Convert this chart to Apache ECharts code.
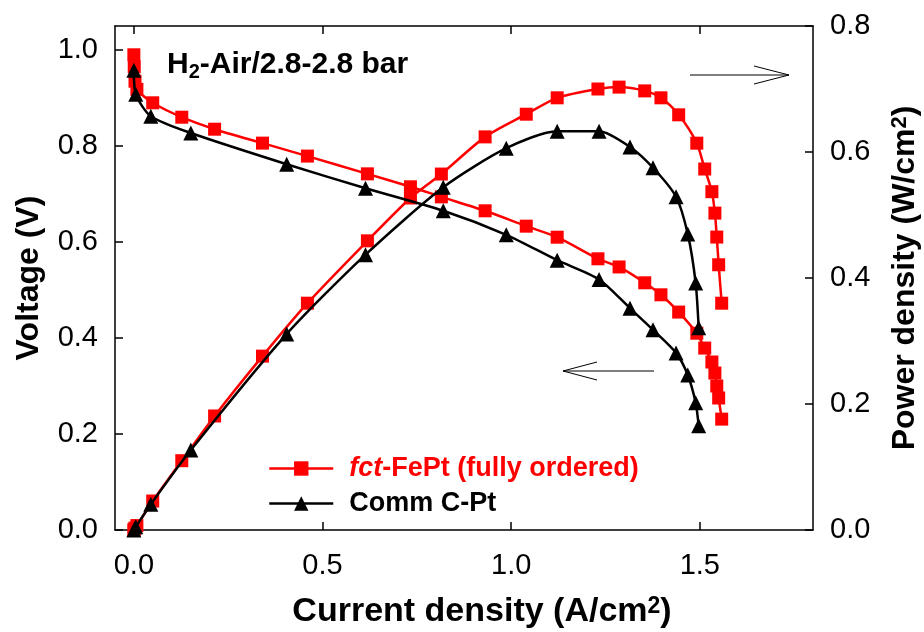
<!DOCTYPE html>
<html><head><meta charset="utf-8">
<script src="https://cdn.jsdelivr.net/npm/echarts@6/dist/echarts.min.js"></script>
<style>html,body{margin:0;padding:0;background:#fff}#c{width:924px;height:632px}</style>
</head><body><div id="c"></div>
<script>
// ---- data ----
const nameFePt = 'fct-FePt (fully ordered)';
const nameCPt = 'Comm C-Pt';

const currentFePt = [0.000, 0.001, 0.003, 0.008, 0.050, 0.127, 0.214, 0.341, 0.460, 0.619, 0.733, 0.815, 0.931, 1.040, 1.122, 1.230, 1.286, 1.354, 1.397, 1.444, 1.492, 1.513, 1.532, 1.540, 1.545, 1.550, 1.558];
const voltageFePt = [0.990, 0.965, 0.935, 0.918, 0.890, 0.860, 0.835, 0.806, 0.779, 0.742, 0.715, 0.694, 0.665, 0.633, 0.610, 0.565, 0.548, 0.515, 0.490, 0.454, 0.410, 0.379, 0.350, 0.327, 0.300, 0.275, 0.231];
const powerFePt   = [0.000, 0.001, 0.003, 0.007, 0.046, 0.110, 0.181, 0.276, 0.360, 0.459, 0.527, 0.565, 0.624, 0.660, 0.686, 0.700, 0.703, 0.697, 0.686, 0.659, 0.614, 0.573, 0.537, 0.503, 0.465, 0.421, 0.360];

const currentCPt = [0.000, 0.005, 0.045, 0.151, 0.405, 0.614, 0.820, 0.987, 1.122, 1.233, 1.315, 1.376, 1.437, 1.468, 1.489, 1.497];
const voltageCPt = [0.958, 0.908, 0.862, 0.827, 0.762, 0.712, 0.665, 0.615, 0.562, 0.522, 0.462, 0.417, 0.369, 0.323, 0.265, 0.217];
const powerCPt   = [0.000, 0.005, 0.041, 0.127, 0.311, 0.437, 0.544, 0.606, 0.633, 0.633, 0.608, 0.575, 0.529, 0.470, 0.392, 0.321];

const xTicks = [0.0, 0.5, 1.0, 1.5];
const voltageTicks = [0.0, 0.2, 0.4, 0.6, 0.8, 1.0];
const powerTicks = [0.0, 0.2, 0.4, 0.6, 0.8];

// ---- chart ----
const FONT = '"Liberation Sans", Arial, sans-serif';
const pairs = (xs, ys) => xs.map((x, i) => [x, ys[i]]);
const fmt = v => Number(v).toFixed(1);
const chart = echarts.init(document.getElementById('c'), null, {renderer: 'canvas'});

const axisLineStyle = {show: true, onZero: false, lineStyle: {color: '#000', width: 1.5}};
const tickStyle = {show: true, inside: true, length: 8, lineStyle: {color: '#000', width: 1.5}};
const labelStyle = {color: '#000', fontSize: 29, fontFamily: FONT, formatter: fmt};
const nameStyle = (size, supSize) => ({color: '#000', fontSize: size, fontWeight: 'bold', fontFamily: FONT,
  rich: {sup: {fontSize: supSize, fontWeight: 'bold', fontFamily: FONT, color: '#000', verticalAlign: 'top', lineHeight: supSize}}});

const lineSeries = (name, xs, ys, yIdx, color, symbol, size) => ({
  name, type: 'line', yAxisIndex: yIdx, data: pairs(xs, ys),
  symbol, symbolSize: size, smooth: 0.25,
  lineStyle: {color, width: 2.5}, itemStyle: {color},
  emphasis: {disabled: true}, animation: false, z: color === '#000000' ? 3 : 2
});

chart.setOption({
  animation: false,
  backgroundColor: '#fff',
  grid: {left: 115, right: 111, top: 26, bottom: 102, containLabel: false, outerBoundsMode: 'none'},
  xAxis: [{
    type: 'value', min: -0.05, max: 1.8, position: 'bottom',
    axisLine: axisLineStyle,
    axisTick: Object.assign({customValues: xTicks}, tickStyle),
    axisLabel: Object.assign({customValues: xTicks, margin: 21}, labelStyle),
    splitLine: {show: false},
    name: 'Current density (A/cm{sup|2})', nameLocation: 'middle', nameGap: 65,
    nameTextStyle: Object.assign({padding: [0, 0, 0, 36]}, nameStyle(34, 23))
  }, {
    type: 'value', min: -0.05, max: 1.8, position: 'top',
    axisLine: axisLineStyle,
    axisTick: Object.assign({customValues: xTicks}, tickStyle),
    axisLabel: {show: false},
    splitLine: {show: false}
  }],
  yAxis: [{
    type: 'value', min: 0, max: 1.05, position: 'left',
    axisLine: axisLineStyle,
    axisTick: Object.assign({customValues: voltageTicks}, tickStyle),
    axisLabel: Object.assign({customValues: voltageTicks, margin: 17}, labelStyle),
    splitLine: {show: false},
    name: 'Voltage (V)', nameLocation: 'middle', nameGap: 70, nameRotate: 90,
    nameTextStyle: nameStyle(32, 22)
  }, {
    type: 'value', min: 0, max: 0.8, position: 'right',
    axisLine: axisLineStyle,
    axisTick: Object.assign({customValues: powerTicks}, tickStyle),
    axisLabel: Object.assign({customValues: powerTicks, margin: 17}, labelStyle),
    splitLine: {show: false},
    name: 'Power density (W/cm{sup|2})', nameLocation: 'middle', nameGap: 76, nameRotate: 90,
    nameTextStyle: nameStyle(32, 22)
  }],
  legend: {
    orient: 'vertical', left: 268, top: 455, itemGap: 8, padding: 0,
    itemWidth: 64, itemHeight: 18, selectedMode: false,
    lineStyle: {width: 2.5},
    data: [
      {name: nameFePt, textStyle: {color: '#ff0000'}},
      {name: nameCPt, textStyle: {color: '#000'}}
    ],
    textStyle: {fontSize: 27, fontWeight: 'bold', fontFamily: FONT,
      rich: {
        g: {width: 11},
        i: {fontSize: 27, fontWeight: 'bold', fontStyle: 'italic', fontFamily: FONT, color: '#ff0000'},
        r: {fontSize: 27, fontWeight: 'bold', fontFamily: FONT, color: '#ff0000'},
        k: {fontSize: 27, fontWeight: 'bold', fontFamily: FONT, color: '#000'}
      }},
    formatter: n => n === nameFePt ? '{g|}{i|fct}{r|-FePt (fully ordered)}' : '{g|}{k|' + n + '}'
  },
  graphic: [
    {type: 'text', left: 167, top: 50, z: 10,
      style: {text: 'H{sub|2}-Air/2.8-2.8 bar', fill: '#000', font: 'bold 30px ' + FONT,
        rich: {sub: {fontSize: 20, fontWeight: 'bold', fontFamily: FONT, fill: '#000', verticalAlign: 'bottom', padding: [14, 0, 0, 0]}}}},
    {type: 'polyline', z: 10, shape: {points: [[690, 75], [789, 75]]}, style: {stroke: '#000', lineWidth: 1, fill: null}},
    {type: 'polyline', z: 10, shape: {points: [[754, 66], [789, 75], [754, 84]]}, style: {stroke: '#000', lineWidth: 1, fill: null}},
    {type: 'polyline', z: 10, shape: {points: [[563, 371], [654, 371]]}, style: {stroke: '#000', lineWidth: 1, fill: null}},
    {type: 'polyline', z: 10, shape: {points: [[597, 362], [563, 371], [597, 380]]}, style: {stroke: '#000', lineWidth: 1, fill: null}}
  ],
  series: [
    lineSeries(nameFePt, currentFePt, voltageFePt, 0, '#ff0000', 'rect', 13),
    lineSeries(nameFePt, currentFePt, powerFePt, 1, '#ff0000', 'rect', 13),
    lineSeries(nameCPt, currentCPt, voltageCPt, 0, '#000000', 'triangle', 15),
    lineSeries(nameCPt, currentCPt, powerCPt, 1, '#000000', 'triangle', 15)
  ]
});
</script></body></html>
